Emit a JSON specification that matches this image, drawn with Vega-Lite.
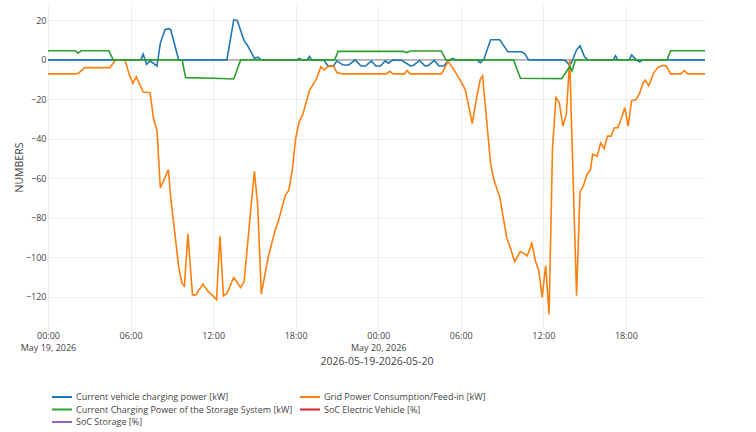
{
  "$schema": "https://vega.github.io/schema/vega-lite/v6.json",
  "width": 657,
  "height": 324,
  "padding": {"left": 14, "top": 5, "right": 5, "bottom": 2},
  "layer": [
    {
      "data": {"values": [{"z": 0}]},
      "mark": {"type": "rule", "color": "#7f7f7f", "strokeWidth": 1},
      "encoding": {"y": {"field": "z", "type": "quantitative"}}
    },
    {
      "data": {
        "values": [
          {"t": "2026-05-19T00:00", "series": "Current vehicle charging power [kW]", "v": 0},
          {"t": "2026-05-19T06:45", "series": "Current vehicle charging power [kW]", "v": 0},
          {"t": "2026-05-19T06:55", "series": "Current vehicle charging power [kW]", "v": 2.9},
          {"t": "2026-05-19T07:10", "series": "Current vehicle charging power [kW]", "v": -2.2},
          {"t": "2026-05-19T07:25", "series": "Current vehicle charging power [kW]", "v": -0.5},
          {"t": "2026-05-19T07:55", "series": "Current vehicle charging power [kW]", "v": -3.1},
          {"t": "2026-05-19T08:10", "series": "Current vehicle charging power [kW]", "v": 8.5},
          {"t": "2026-05-19T08:30", "series": "Current vehicle charging power [kW]", "v": 15.3},
          {"t": "2026-05-19T08:45", "series": "Current vehicle charging power [kW]", "v": 15.8},
          {"t": "2026-05-19T08:55", "series": "Current vehicle charging power [kW]", "v": 15.3},
          {"t": "2026-05-19T09:30", "series": "Current vehicle charging power [kW]", "v": 0},
          {"t": "2026-05-19T13:00", "series": "Current vehicle charging power [kW]", "v": 0},
          {"t": "2026-05-19T13:30", "series": "Current vehicle charging power [kW]", "v": 20.3},
          {"t": "2026-05-19T13:45", "series": "Current vehicle charging power [kW]", "v": 20},
          {"t": "2026-05-19T14:15", "series": "Current vehicle charging power [kW]", "v": 9.8},
          {"t": "2026-05-19T14:30", "series": "Current vehicle charging power [kW]", "v": 7.3},
          {"t": "2026-05-19T15:00", "series": "Current vehicle charging power [kW]", "v": 0.8},
          {"t": "2026-05-19T15:15", "series": "Current vehicle charging power [kW]", "v": 1.4},
          {"t": "2026-05-19T15:30", "series": "Current vehicle charging power [kW]", "v": 0},
          {"t": "2026-05-19T18:05", "series": "Current vehicle charging power [kW]", "v": 0},
          {"t": "2026-05-19T18:15", "series": "Current vehicle charging power [kW]", "v": 0.7},
          {"t": "2026-05-19T18:30", "series": "Current vehicle charging power [kW]", "v": 0},
          {"t": "2026-05-19T18:50", "series": "Current vehicle charging power [kW]", "v": 0},
          {"t": "2026-05-19T19:00", "series": "Current vehicle charging power [kW]", "v": 1.7},
          {"t": "2026-05-19T19:10", "series": "Current vehicle charging power [kW]", "v": 0},
          {"t": "2026-05-19T20:05", "series": "Current vehicle charging power [kW]", "v": -0.3},
          {"t": "2026-05-19T20:20", "series": "Current vehicle charging power [kW]", "v": -3.1},
          {"t": "2026-05-19T20:45", "series": "Current vehicle charging power [kW]", "v": -2.9},
          {"t": "2026-05-19T21:00", "series": "Current vehicle charging power [kW]", "v": -0.5},
          {"t": "2026-05-19T21:25", "series": "Current vehicle charging power [kW]", "v": -2.5},
          {"t": "2026-05-19T21:50", "series": "Current vehicle charging power [kW]", "v": -2.7},
          {"t": "2026-05-19T22:20", "series": "Current vehicle charging power [kW]", "v": 0},
          {"t": "2026-05-19T22:45", "series": "Current vehicle charging power [kW]", "v": -3.1},
          {"t": "2026-05-19T23:05", "series": "Current vehicle charging power [kW]", "v": -3.1},
          {"t": "2026-05-19T23:30", "series": "Current vehicle charging power [kW]", "v": -0.5},
          {"t": "2026-05-19T23:50", "series": "Current vehicle charging power [kW]", "v": -3.1},
          {"t": "2026-05-20T00:10", "series": "Current vehicle charging power [kW]", "v": -3.1},
          {"t": "2026-05-20T00:30", "series": "Current vehicle charging power [kW]", "v": -0.5},
          {"t": "2026-05-20T00:45", "series": "Current vehicle charging power [kW]", "v": -1.7},
          {"t": "2026-05-20T01:05", "series": "Current vehicle charging power [kW]", "v": 0},
          {"t": "2026-05-20T01:45", "series": "Current vehicle charging power [kW]", "v": -0.3},
          {"t": "2026-05-20T02:20", "series": "Current vehicle charging power [kW]", "v": -3.1},
          {"t": "2026-05-20T02:35", "series": "Current vehicle charging power [kW]", "v": -2.7},
          {"t": "2026-05-20T03:00", "series": "Current vehicle charging power [kW]", "v": -0.3},
          {"t": "2026-05-20T03:25", "series": "Current vehicle charging power [kW]", "v": -3.1},
          {"t": "2026-05-20T03:40", "series": "Current vehicle charging power [kW]", "v": -2.7},
          {"t": "2026-05-20T04:05", "series": "Current vehicle charging power [kW]", "v": -0.3},
          {"t": "2026-05-20T04:25", "series": "Current vehicle charging power [kW]", "v": -3.1},
          {"t": "2026-05-20T04:45", "series": "Current vehicle charging power [kW]", "v": -3.1},
          {"t": "2026-05-20T05:05", "series": "Current vehicle charging power [kW]", "v": -0.5},
          {"t": "2026-05-20T05:25", "series": "Current vehicle charging power [kW]", "v": 0.8},
          {"t": "2026-05-20T05:40", "series": "Current vehicle charging power [kW]", "v": 0},
          {"t": "2026-05-20T07:10", "series": "Current vehicle charging power [kW]", "v": 0},
          {"t": "2026-05-20T07:25", "series": "Current vehicle charging power [kW]", "v": -1.4},
          {"t": "2026-05-20T07:40", "series": "Current vehicle charging power [kW]", "v": 0},
          {"t": "2026-05-20T08:10", "series": "Current vehicle charging power [kW]", "v": 10.2},
          {"t": "2026-05-20T08:50", "series": "Current vehicle charging power [kW]", "v": 10.2},
          {"t": "2026-05-20T09:00", "series": "Current vehicle charging power [kW]", "v": 8.5},
          {"t": "2026-05-20T09:25", "series": "Current vehicle charging power [kW]", "v": 4.2},
          {"t": "2026-05-20T10:25", "series": "Current vehicle charging power [kW]", "v": 4.1},
          {"t": "2026-05-20T10:40", "series": "Current vehicle charging power [kW]", "v": 3.1},
          {"t": "2026-05-20T10:55", "series": "Current vehicle charging power [kW]", "v": 0},
          {"t": "2026-05-20T13:25", "series": "Current vehicle charging power [kW]", "v": 0},
          {"t": "2026-05-20T13:40", "series": "Current vehicle charging power [kW]", "v": -0.8},
          {"t": "2026-05-20T13:55", "series": "Current vehicle charging power [kW]", "v": -2.9},
          {"t": "2026-05-20T14:05", "series": "Current vehicle charging power [kW]", "v": -0.8},
          {"t": "2026-05-20T14:25", "series": "Current vehicle charging power [kW]", "v": 5.1},
          {"t": "2026-05-20T14:40", "series": "Current vehicle charging power [kW]", "v": 7.1},
          {"t": "2026-05-20T15:00", "series": "Current vehicle charging power [kW]", "v": 1.4},
          {"t": "2026-05-20T15:15", "series": "Current vehicle charging power [kW]", "v": 0},
          {"t": "2026-05-20T17:05", "series": "Current vehicle charging power [kW]", "v": 0},
          {"t": "2026-05-20T17:15", "series": "Current vehicle charging power [kW]", "v": 2.0},
          {"t": "2026-05-20T17:25", "series": "Current vehicle charging power [kW]", "v": 0},
          {"t": "2026-05-20T18:15", "series": "Current vehicle charging power [kW]", "v": 0},
          {"t": "2026-05-20T18:25", "series": "Current vehicle charging power [kW]", "v": 2.5},
          {"t": "2026-05-20T18:45", "series": "Current vehicle charging power [kW]", "v": 0},
          {"t": "2026-05-20T19:00", "series": "Current vehicle charging power [kW]", "v": -1.0},
          {"t": "2026-05-20T19:15", "series": "Current vehicle charging power [kW]", "v": 0},
          {"t": "2026-05-20T23:45", "series": "Current vehicle charging power [kW]", "v": 0},
          {"t": "2026-05-19T00:00", "series": "Grid Power Consumption/Feed-in [kW]", "v": -7.1},
          {"t": "2026-05-19T02:00", "series": "Grid Power Consumption/Feed-in [kW]", "v": -7.1},
          {"t": "2026-05-19T02:15", "series": "Grid Power Consumption/Feed-in [kW]", "v": -6.5},
          {"t": "2026-05-19T02:40", "series": "Grid Power Consumption/Feed-in [kW]", "v": -3.9},
          {"t": "2026-05-19T04:30", "series": "Grid Power Consumption/Feed-in [kW]", "v": -3.9},
          {"t": "2026-05-19T04:55", "series": "Grid Power Consumption/Feed-in [kW]", "v": 0},
          {"t": "2026-05-19T05:35", "series": "Grid Power Consumption/Feed-in [kW]", "v": 0},
          {"t": "2026-05-19T05:55", "series": "Grid Power Consumption/Feed-in [kW]", "v": -7.6},
          {"t": "2026-05-19T06:10", "series": "Grid Power Consumption/Feed-in [kW]", "v": -11.9},
          {"t": "2026-05-19T06:25", "series": "Grid Power Consumption/Feed-in [kW]", "v": -8.5},
          {"t": "2026-05-19T06:55", "series": "Grid Power Consumption/Feed-in [kW]", "v": -16.3},
          {"t": "2026-05-19T07:25", "series": "Grid Power Consumption/Feed-in [kW]", "v": -16.6},
          {"t": "2026-05-19T07:40", "series": "Grid Power Consumption/Feed-in [kW]", "v": -29.7},
          {"t": "2026-05-19T07:55", "series": "Grid Power Consumption/Feed-in [kW]", "v": -35.6},
          {"t": "2026-05-19T08:10", "series": "Grid Power Consumption/Feed-in [kW]", "v": -64.9},
          {"t": "2026-05-19T08:45", "series": "Grid Power Consumption/Feed-in [kW]", "v": -55.6},
          {"t": "2026-05-19T08:55", "series": "Grid Power Consumption/Feed-in [kW]", "v": -69.5},
          {"t": "2026-05-19T09:30", "series": "Grid Power Consumption/Feed-in [kW]", "v": -105},
          {"t": "2026-05-19T09:45", "series": "Grid Power Consumption/Feed-in [kW]", "v": -113.6},
          {"t": "2026-05-19T09:55", "series": "Grid Power Consumption/Feed-in [kW]", "v": -114.6},
          {"t": "2026-05-19T10:10", "series": "Grid Power Consumption/Feed-in [kW]", "v": -88.1},
          {"t": "2026-05-19T10:30", "series": "Grid Power Consumption/Feed-in [kW]", "v": -119},
          {"t": "2026-05-19T10:45", "series": "Grid Power Consumption/Feed-in [kW]", "v": -119},
          {"t": "2026-05-19T11:15", "series": "Grid Power Consumption/Feed-in [kW]", "v": -113.6},
          {"t": "2026-05-19T11:40", "series": "Grid Power Consumption/Feed-in [kW]", "v": -117.5},
          {"t": "2026-05-19T11:55", "series": "Grid Power Consumption/Feed-in [kW]", "v": -119},
          {"t": "2026-05-19T12:15", "series": "Grid Power Consumption/Feed-in [kW]", "v": -121.5},
          {"t": "2026-05-19T12:30", "series": "Grid Power Consumption/Feed-in [kW]", "v": -89.3},
          {"t": "2026-05-19T12:45", "series": "Grid Power Consumption/Feed-in [kW]", "v": -119.5},
          {"t": "2026-05-19T13:00", "series": "Grid Power Consumption/Feed-in [kW]", "v": -118.3},
          {"t": "2026-05-19T13:30", "series": "Grid Power Consumption/Feed-in [kW]", "v": -110.2},
          {"t": "2026-05-19T14:00", "series": "Grid Power Consumption/Feed-in [kW]", "v": -115.3},
          {"t": "2026-05-19T14:15", "series": "Grid Power Consumption/Feed-in [kW]", "v": -112.4},
          {"t": "2026-05-19T15:00", "series": "Grid Power Consumption/Feed-in [kW]", "v": -56.4},
          {"t": "2026-05-19T15:15", "series": "Grid Power Consumption/Feed-in [kW]", "v": -74.6},
          {"t": "2026-05-19T15:30", "series": "Grid Power Consumption/Feed-in [kW]", "v": -118.6},
          {"t": "2026-05-19T16:00", "series": "Grid Power Consumption/Feed-in [kW]", "v": -100},
          {"t": "2026-05-19T16:30", "series": "Grid Power Consumption/Feed-in [kW]", "v": -86.4},
          {"t": "2026-05-19T16:45", "series": "Grid Power Consumption/Feed-in [kW]", "v": -81.4},
          {"t": "2026-05-19T17:15", "series": "Grid Power Consumption/Feed-in [kW]", "v": -68.6},
          {"t": "2026-05-19T17:30", "series": "Grid Power Consumption/Feed-in [kW]", "v": -66.1},
          {"t": "2026-05-19T17:45", "series": "Grid Power Consumption/Feed-in [kW]", "v": -55.9},
          {"t": "2026-05-19T18:00", "series": "Grid Power Consumption/Feed-in [kW]", "v": -39.8},
          {"t": "2026-05-19T18:15", "series": "Grid Power Consumption/Feed-in [kW]", "v": -31.4},
          {"t": "2026-05-19T18:30", "series": "Grid Power Consumption/Feed-in [kW]", "v": -28},
          {"t": "2026-05-19T19:00", "series": "Grid Power Consumption/Feed-in [kW]", "v": -15.6},
          {"t": "2026-05-19T19:30", "series": "Grid Power Consumption/Feed-in [kW]", "v": -9.7},
          {"t": "2026-05-19T19:50", "series": "Grid Power Consumption/Feed-in [kW]", "v": -3.4},
          {"t": "2026-05-19T20:05", "series": "Grid Power Consumption/Feed-in [kW]", "v": -5.1},
          {"t": "2026-05-19T20:20", "series": "Grid Power Consumption/Feed-in [kW]", "v": -3.4},
          {"t": "2026-05-19T20:45", "series": "Grid Power Consumption/Feed-in [kW]", "v": -3.1},
          {"t": "2026-05-19T21:00", "series": "Grid Power Consumption/Feed-in [kW]", "v": -6.4},
          {"t": "2026-05-19T21:25", "series": "Grid Power Consumption/Feed-in [kW]", "v": -7.1},
          {"t": "2026-05-20T00:35", "series": "Grid Power Consumption/Feed-in [kW]", "v": -7.1},
          {"t": "2026-05-20T00:50", "series": "Grid Power Consumption/Feed-in [kW]", "v": -5.8},
          {"t": "2026-05-20T01:05", "series": "Grid Power Consumption/Feed-in [kW]", "v": -7.1},
          {"t": "2026-05-20T01:55", "series": "Grid Power Consumption/Feed-in [kW]", "v": -7.1},
          {"t": "2026-05-20T02:05", "series": "Grid Power Consumption/Feed-in [kW]", "v": -5.4},
          {"t": "2026-05-20T02:20", "series": "Grid Power Consumption/Feed-in [kW]", "v": -7.1},
          {"t": "2026-05-20T04:35", "series": "Grid Power Consumption/Feed-in [kW]", "v": -7.1},
          {"t": "2026-05-20T04:45", "series": "Grid Power Consumption/Feed-in [kW]", "v": -5.1},
          {"t": "2026-05-20T05:05", "series": "Grid Power Consumption/Feed-in [kW]", "v": -0.8},
          {"t": "2026-05-20T05:15", "series": "Grid Power Consumption/Feed-in [kW]", "v": -2.5},
          {"t": "2026-05-20T05:40", "series": "Grid Power Consumption/Feed-in [kW]", "v": -6.8},
          {"t": "2026-05-20T05:55", "series": "Grid Power Consumption/Feed-in [kW]", "v": -9.7},
          {"t": "2026-05-20T06:20", "series": "Grid Power Consumption/Feed-in [kW]", "v": -15.3},
          {"t": "2026-05-20T06:50", "series": "Grid Power Consumption/Feed-in [kW]", "v": -32.2},
          {"t": "2026-05-20T07:10", "series": "Grid Power Consumption/Feed-in [kW]", "v": -18.6},
          {"t": "2026-05-20T07:25", "series": "Grid Power Consumption/Feed-in [kW]", "v": -9.8},
          {"t": "2026-05-20T07:35", "series": "Grid Power Consumption/Feed-in [kW]", "v": -8.1},
          {"t": "2026-05-20T08:10", "series": "Grid Power Consumption/Feed-in [kW]", "v": -52.5},
          {"t": "2026-05-20T08:25", "series": "Grid Power Consumption/Feed-in [kW]", "v": -61},
          {"t": "2026-05-20T08:50", "series": "Grid Power Consumption/Feed-in [kW]", "v": -69.5},
          {"t": "2026-05-20T09:20", "series": "Grid Power Consumption/Feed-in [kW]", "v": -89.8},
          {"t": "2026-05-20T09:40", "series": "Grid Power Consumption/Feed-in [kW]", "v": -96.6},
          {"t": "2026-05-20T09:55", "series": "Grid Power Consumption/Feed-in [kW]", "v": -102.2},
          {"t": "2026-05-20T10:20", "series": "Grid Power Consumption/Feed-in [kW]", "v": -97},
          {"t": "2026-05-20T10:50", "series": "Grid Power Consumption/Feed-in [kW]", "v": -99.2},
          {"t": "2026-05-20T11:10", "series": "Grid Power Consumption/Feed-in [kW]", "v": -92.9},
          {"t": "2026-05-20T11:25", "series": "Grid Power Consumption/Feed-in [kW]", "v": -101.7},
          {"t": "2026-05-20T11:40", "series": "Grid Power Consumption/Feed-in [kW]", "v": -106.8},
          {"t": "2026-05-20T11:55", "series": "Grid Power Consumption/Feed-in [kW]", "v": -120.3},
          {"t": "2026-05-20T12:10", "series": "Grid Power Consumption/Feed-in [kW]", "v": -104.2},
          {"t": "2026-05-20T12:25", "series": "Grid Power Consumption/Feed-in [kW]", "v": -128.8},
          {"t": "2026-05-20T12:40", "series": "Grid Power Consumption/Feed-in [kW]", "v": -44.9},
          {"t": "2026-05-20T12:55", "series": "Grid Power Consumption/Feed-in [kW]", "v": -19},
          {"t": "2026-05-20T13:10", "series": "Grid Power Consumption/Feed-in [kW]", "v": -21.7},
          {"t": "2026-05-20T13:25", "series": "Grid Power Consumption/Feed-in [kW]", "v": -33.6},
          {"t": "2026-05-20T13:40", "series": "Grid Power Consumption/Feed-in [kW]", "v": -28},
          {"t": "2026-05-20T13:55", "series": "Grid Power Consumption/Feed-in [kW]", "v": 0},
          {"t": "2026-05-20T14:05", "series": "Grid Power Consumption/Feed-in [kW]", "v": -40.7},
          {"t": "2026-05-20T14:25", "series": "Grid Power Consumption/Feed-in [kW]", "v": -119.5},
          {"t": "2026-05-20T14:40", "series": "Grid Power Consumption/Feed-in [kW]", "v": -66.6},
          {"t": "2026-05-20T14:55", "series": "Grid Power Consumption/Feed-in [kW]", "v": -63.7},
          {"t": "2026-05-20T15:10", "series": "Grid Power Consumption/Feed-in [kW]", "v": -58},
          {"t": "2026-05-20T15:25", "series": "Grid Power Consumption/Feed-in [kW]", "v": -55.9},
          {"t": "2026-05-20T15:35", "series": "Grid Power Consumption/Feed-in [kW]", "v": -47.8},
          {"t": "2026-05-20T15:55", "series": "Grid Power Consumption/Feed-in [kW]", "v": -48.8},
          {"t": "2026-05-20T16:10", "series": "Grid Power Consumption/Feed-in [kW]", "v": -42},
          {"t": "2026-05-20T16:25", "series": "Grid Power Consumption/Feed-in [kW]", "v": -44.9},
          {"t": "2026-05-20T16:40", "series": "Grid Power Consumption/Feed-in [kW]", "v": -38.6},
          {"t": "2026-05-20T16:55", "series": "Grid Power Consumption/Feed-in [kW]", "v": -38.6},
          {"t": "2026-05-20T17:10", "series": "Grid Power Consumption/Feed-in [kW]", "v": -34.4},
          {"t": "2026-05-20T17:25", "series": "Grid Power Consumption/Feed-in [kW]", "v": -34.4},
          {"t": "2026-05-20T17:40", "series": "Grid Power Consumption/Feed-in [kW]", "v": -29.7},
          {"t": "2026-05-20T17:55", "series": "Grid Power Consumption/Feed-in [kW]", "v": -24.2},
          {"t": "2026-05-20T18:10", "series": "Grid Power Consumption/Feed-in [kW]", "v": -33.6},
          {"t": "2026-05-20T18:25", "series": "Grid Power Consumption/Feed-in [kW]", "v": -20.7},
          {"t": "2026-05-20T18:45", "series": "Grid Power Consumption/Feed-in [kW]", "v": -20},
          {"t": "2026-05-20T19:00", "series": "Grid Power Consumption/Feed-in [kW]", "v": -16.9},
          {"t": "2026-05-20T19:15", "series": "Grid Power Consumption/Feed-in [kW]", "v": -11.5},
          {"t": "2026-05-20T19:25", "series": "Grid Power Consumption/Feed-in [kW]", "v": -10.2},
          {"t": "2026-05-20T19:40", "series": "Grid Power Consumption/Feed-in [kW]", "v": -13.2},
          {"t": "2026-05-20T20:00", "series": "Grid Power Consumption/Feed-in [kW]", "v": -6.8},
          {"t": "2026-05-20T20:20", "series": "Grid Power Consumption/Feed-in [kW]", "v": -3.7},
          {"t": "2026-05-20T20:40", "series": "Grid Power Consumption/Feed-in [kW]", "v": -2.9},
          {"t": "2026-05-20T20:55", "series": "Grid Power Consumption/Feed-in [kW]", "v": -2.9},
          {"t": "2026-05-20T21:15", "series": "Grid Power Consumption/Feed-in [kW]", "v": -7.1},
          {"t": "2026-05-20T22:00", "series": "Grid Power Consumption/Feed-in [kW]", "v": -7.1},
          {"t": "2026-05-20T22:15", "series": "Grid Power Consumption/Feed-in [kW]", "v": -5.4},
          {"t": "2026-05-20T22:30", "series": "Grid Power Consumption/Feed-in [kW]", "v": -7.1},
          {"t": "2026-05-20T23:45", "series": "Grid Power Consumption/Feed-in [kW]", "v": -7.1},
          {"t": "2026-05-19T00:00", "series": "Current Charging Power of the Storage System [kW]", "v": 4.6},
          {"t": "2026-05-19T02:00", "series": "Current Charging Power of the Storage System [kW]", "v": 4.6},
          {"t": "2026-05-19T02:10", "series": "Current Charging Power of the Storage System [kW]", "v": 3.4},
          {"t": "2026-05-19T02:25", "series": "Current Charging Power of the Storage System [kW]", "v": 4.6},
          {"t": "2026-05-19T04:25", "series": "Current Charging Power of the Storage System [kW]", "v": 4.6},
          {"t": "2026-05-19T04:45", "series": "Current Charging Power of the Storage System [kW]", "v": 0},
          {"t": "2026-05-19T09:45", "series": "Current Charging Power of the Storage System [kW]", "v": 0},
          {"t": "2026-05-19T10:00", "series": "Current Charging Power of the Storage System [kW]", "v": -9.0},
          {"t": "2026-05-19T12:00", "series": "Current Charging Power of the Storage System [kW]", "v": -9.3},
          {"t": "2026-05-19T13:30", "series": "Current Charging Power of the Storage System [kW]", "v": -9.7},
          {"t": "2026-05-19T14:00", "series": "Current Charging Power of the Storage System [kW]", "v": 0},
          {"t": "2026-05-19T20:50", "series": "Current Charging Power of the Storage System [kW]", "v": 0},
          {"t": "2026-05-19T21:05", "series": "Current Charging Power of the Storage System [kW]", "v": 4.3},
          {"t": "2026-05-20T01:50", "series": "Current Charging Power of the Storage System [kW]", "v": 4.3},
          {"t": "2026-05-20T02:05", "series": "Current Charging Power of the Storage System [kW]", "v": 3.7},
          {"t": "2026-05-20T02:20", "series": "Current Charging Power of the Storage System [kW]", "v": 4.5},
          {"t": "2026-05-20T04:35", "series": "Current Charging Power of the Storage System [kW]", "v": 4.5},
          {"t": "2026-05-20T04:55", "series": "Current Charging Power of the Storage System [kW]", "v": 0},
          {"t": "2026-05-20T09:50", "series": "Current Charging Power of the Storage System [kW]", "v": 0},
          {"t": "2026-05-20T10:20", "series": "Current Charging Power of the Storage System [kW]", "v": -9.3},
          {"t": "2026-05-20T13:20", "series": "Current Charging Power of the Storage System [kW]", "v": -9.5},
          {"t": "2026-05-20T13:55", "series": "Current Charging Power of the Storage System [kW]", "v": -3.4},
          {"t": "2026-05-20T14:05", "series": "Current Charging Power of the Storage System [kW]", "v": -5.6},
          {"t": "2026-05-20T14:20", "series": "Current Charging Power of the Storage System [kW]", "v": 0},
          {"t": "2026-05-20T21:00", "series": "Current Charging Power of the Storage System [kW]", "v": 0},
          {"t": "2026-05-20T21:15", "series": "Current Charging Power of the Storage System [kW]", "v": 4.6},
          {"t": "2026-05-20T23:45", "series": "Current Charging Power of the Storage System [kW]", "v": 4.6}
        ]
      },
      "mark": {"type": "line", "strokeWidth": 1.6},
      "encoding": {
        "x": {
          "field": "t",
          "type": "temporal",
          "scale": {"nice": false},
          "axis": {
            "title": "2026-05-19-2026-05-20",
            "values": [
              {"year": 2026, "month": 5, "date": 19, "hours": 0},
              {"year": 2026, "month": 5, "date": 19, "hours": 6},
              {"year": 2026, "month": 5, "date": 19, "hours": 12},
              {"year": 2026, "month": 5, "date": 19, "hours": 18},
              {"year": 2026, "month": 5, "date": 20, "hours": 0},
              {"year": 2026, "month": 5, "date": 20, "hours": 6},
              {"year": 2026, "month": 5, "date": 20, "hours": 12},
              {"year": 2026, "month": 5, "date": 20, "hours": 18}
            ],
            "labelExpr": "hours(datum.value) == 0 ? [timeFormat(datum.value, '%H:%M'), timeFormat(datum.value, '%b %d, %Y')] : timeFormat(datum.value, '%H:%M')",
            "labelFontSize": 9,
            "labelColor": "#444",
            "labelPadding": 2,
            "labelLineHeight": 12,
            "labelFlush": false,
            "labelOverlap": false,
            "ticks": false,
            "domain": false,
            "gridColor": "#eeeeee",
            "titleFontSize": 10.5,
            "titleFontWeight": "normal",
            "titleColor": "#444",
            "titlePadding": 4
          }
        },
        "y": {
          "field": "v",
          "type": "quantitative",
          "scale": {"domain": [-136.3, 27.8], "nice": false, "zero": false},
          "axis": {
            "title": "NUMBERS",
            "values": [-120, -100, -80, -60, -40, -20, 0, 20],
            "labelFontSize": 9,
            "labelColor": "#444",
            "labelPadding": 2,
            "ticks": false,
            "domain": false,
            "gridColor": "#eeeeee",
            "titleFontSize": 10.5,
            "titleFontWeight": "normal",
            "titleColor": "#444",
            "titlePadding": 1
          }
        },
        "color": {
          "field": "series",
          "type": "nominal",
          "scale": {
            "domain": [
              "Current vehicle charging power [kW]",
              "Grid Power Consumption/Feed-in [kW]",
              "Current Charging Power of the Storage System [kW]",
              "SoC Electric Vehicle [%]",
              "SoC Storage [%]"
            ],
            "range": ["#1f77b4", "#ff7f0e", "#2ca02c", "#d62728", "#9467bd"]
          },
          "legend": {
            "title": null,
            "orient": "bottom",
            "offset": 16,
            "padding": 8,
            "columns": 2,
            "symbolType": "M-2,0H2",
            "symbolSize": 100,
            "symbolStrokeWidth": 2,
            "labelFontSize": 9,
            "labelColor": "#444",
            "labelOffset": 8,
            "labelLimit": 400,
            "columnPadding": 3,
            "rowPadding": 1.5
          }
        }
      }
    }
  ],
  "config": {"font": "Open Sans", "view": {"stroke": "transparent"}}
}
